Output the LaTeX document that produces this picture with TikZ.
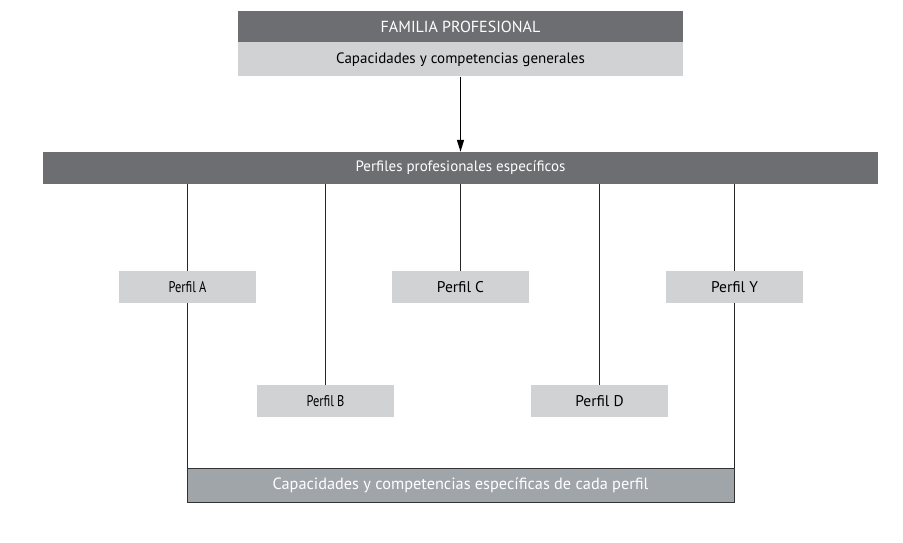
\documentclass[tikz,border=0pt]{standalone}
\usepackage{fontspec}
\setmainfont{PT Sans}
\usetikzlibrary{positioning,arrows.meta}
\definecolor{colordark} {RGB}{109,110,113}
\definecolor{colorlight}{RGB}{209,210,212}
\definecolor{colorspec} {RGB}{160,165,170}
\newcommand{\fsize}[1]{\fontsize{#1}{#1}\selectfont}
\newcommand{\narrowtext}[1]{\scalebox{0.8}[1]{#1}}

\begin{document}
\begin{tikzpicture}[
    x=1pt, y=-1pt,
    font={\fsize{15}},
    base/.style={inner sep=0pt,align=center,rectangle,minimum height=32pt},
    dark/.style={base,fill=colordark,text=white},
    light/.style={base,fill=colorlight},
    perfil/.style={light,minimum width=137pt,font={\fsize{15.5}}},
    link/.style={draw=black!85,line width=0.9pt},
]
    \useasboundingbox (0,0) rectangle (903,542);

    \node[dark,minimum width=445pt,minimum height=31pt,font={\fsize{16}}] (familia) at (460.5,26.5) {FAMILIA PROFESIONAL};
    \node[light,minimum width=445pt,minimum height=34pt,below=0pt of familia] (generales) {Capacidades y competencias generales};

    \node[dark,minimum width=835pt] (perfiles) at (460.5,168) {Perfiles profesionales específicos};

    \node[perfil] (perfilA) at (187.5,287) {\narrowtext{Perfil A}};
    \node[perfil] (perfilB) at (325.5,401) {\narrowtext{Perfil B}};
    \node[perfil] (perfilC) at (460.5,287) {Perfil C};
    \node[perfil] (perfilD) at (599.5,401) {Perfil D};
    \node[perfil] (perfilY) at (734.5,287) {Perfil Y};

    \node[base,fill=colorspec,text=white,draw=black!80,line width=1pt,font={\fsize{16.3}},
          minimum width=547pt,minimum height=34pt] (especificas) at (460.5,485)
          {Capacidades y competencias específicas de cada perfil};

    \draw[-{Triangle[length=12pt,width=7pt]},line width=1.3pt](generales) -- (perfiles);

    \draw[link](perfiles.south -| perfilA) -- (perfilA);
    \draw[link](perfiles.south -| perfilB) -- (perfilB);
    \draw[link](perfiles.south -| perfilC) -- (perfilC);
    \draw[link](perfiles.south -| perfilD) -- (perfilD);
    \draw[link](perfiles.south -| perfilY) -- (perfilY);

    \draw[link](perfilA) -- (perfilA |- especificas.north);
    \draw[link](perfilY) -- (perfilY |- especificas.north);

\end{tikzpicture}
\end{document}
